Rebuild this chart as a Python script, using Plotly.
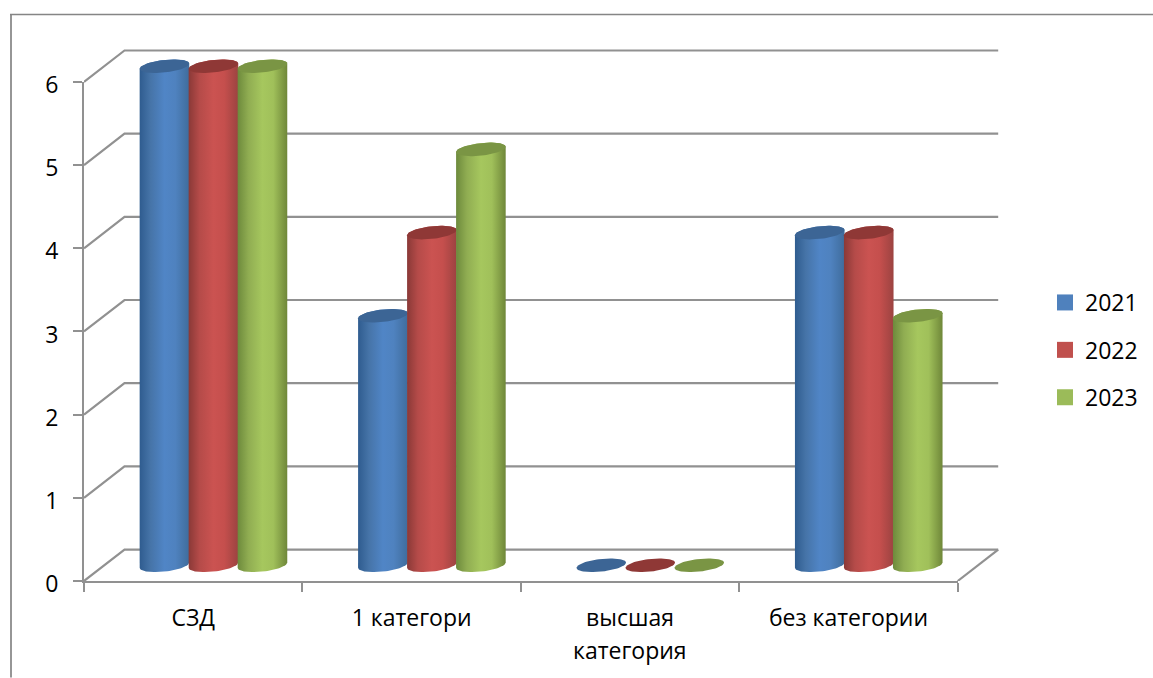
import numpy as np
import plotly.graph_objects as go

categories = ["СЗД", "1 категори", "высшая", "без категории"]
second_lines = {2: "категория"}
years = ["2021", "2022", "2023"]
s2021 = [6, 3, 0, 4]
s2022 = [6, 4, 0, 4]
s2023 = [6, 5, 0, 3]
series = [s2021, s2022, s2023]
y_ticks = [0, 1, 2, 3, 4, 5, 6]
legend_colors = ["#4f81bd", "#c0504d", "#9bbb59"]
top_colors = ["#3c6595", "#8f3836", "#7a9544"]
gradients = [
    ["#2f5c8f", "#4674a8", "#5085c6", "#4f82bf", "#3f6c9c"],
    ["#8a3937", "#b54b49", "#cb5351", "#c54f4d", "#9c4341"],
    ["#6d8a3c", "#90ad52", "#a6c75e", "#a0c05a", "#6f8739"],
]

W, H = 1153, 678
L, R_front, R, T, B = 84, 957.7, 1001, 40, 581.5
TOP6 = 82.0
px_x = (R_front - L) / 4
px_y = (B - TOP6) / 6
dx = 40.5 / px_x   # wall depth in category units
dy = 31.5 / px_y   # wall depth in value units
x_max = (R - L) / px_x
y_top = (B - T) / px_y
line_color = "#919191"
line_w = 2.2
FS = 23

fig = go.Figure()

# walls: grid lines
for v in y_ticks:
    fig.add_trace(go.Scatter(
        x=[0, dx, 4 + dx], y=[v, v + dy, v + dy], mode="lines",
        line=dict(color=line_color, width=line_w), cliponaxis=False,
        showlegend=False, hoverinfo="skip"))
fig.add_trace(go.Scatter(
    x=[4, 4 + dx], y=[0, dy], mode="lines",
    line=dict(color=line_color, width=line_w), cliponaxis=False,
    showlegend=False, hoverinfo="skip"))

# cylinders
a = 24.8 / px_x
b = 6.3 / px_y
shear = (2.6 / px_y) / a
base = dy / 2
t_low = np.linspace(np.pi, 2 * np.pi, 40)
t_up = np.linspace(0, np.pi, 40)
t_all = np.linspace(0, 2 * np.pi, 80)

def ell(cx, cy, t):
    ex = a * np.cos(t)
    ey = b * np.sin(t) + shear * ex
    return cx + ex, cy + ey

for c in range(len(categories)):
    for s, vals in enumerate(series):
        cx = c + 0.5 + dx / 2 + (s - 1) * (49 / px_x)
        v = vals[c]
        if v > 0:
            x1, y1 = ell(cx, base, t_low)
            x2, y2 = ell(cx, base + v, t_up)
            stops = [0, 0.22, 0.5, 0.72, 1]
            fig.add_trace(go.Scatter(
                x=np.r_[x1, x2, x1[0]], y=np.r_[y1, y2, y1[0]], mode="lines",
                line=dict(width=0), fill="toself", cliponaxis=False,
                fillgradient=dict(type="horizontal",
                                  colorscale=[[p, col] for p, col in zip(stops, gradients[s])]),
                showlegend=False, hoverinfo="skip"))
        x3, y3 = ell(cx, base + v, t_all)
        fig.add_trace(go.Scatter(
            x=x3, y=y3, mode="lines", line=dict(width=0), fill="toself",
            fillcolor=top_colors[s], cliponaxis=False, showlegend=False, hoverinfo="skip"))

# legend entries
for s, year in enumerate(years):
    fig.add_trace(go.Scatter(
        x=[None], y=[None], mode="markers", name=year, legendgroup=year,
        marker=dict(symbol="square", size=16, color=legend_colors[s])))

# front-plane axes (shorter than the walls)
fig.add_trace(go.Scatter(x=[None], y=[None], xaxis="x2", yaxis="y2", mode="lines",
                         showlegend=False, hoverinfo="skip"))

font = "Open Sans"
fig.update_layout(
    width=W, height=H, autosize=False,
    margin=dict(l=L, r=W - R, t=T, b=H - B),
    paper_bgcolor="white", plot_bgcolor="rgba(0,0,0,0)",
    font=dict(family=font, size=FS, color="#000000"),
    hovermode=False,
    xaxis=dict(range=[0, x_max], showgrid=False, zeroline=False, showline=False,
               tickmode="array", tickvals=[i + 0.5 for i in range(4)], ticktext=categories,
               ticks="", ticklabelstandoff=21, tickfont=dict(size=FS)),
    yaxis=dict(range=[0, y_top], showgrid=False, zeroline=False, showline=False,
               showticklabels=False, ticks=""),
    xaxis2=dict(domain=[0, (R_front - L) / (R - L)], anchor="y2", range=[0, 4],
                showgrid=False, zeroline=False, showline=True,
                linecolor=line_color, linewidth=line_w,
                tickmode="array", tickvals=list(range(5)), ticks="outside", ticklen=9,
                tickwidth=2, tickcolor=line_color, showticklabels=False),
    yaxis2=dict(domain=[0, (B - TOP6) / (B - T)], anchor="x2", range=[0, 6],
                showgrid=False, zeroline=False, showline=True,
                linecolor=line_color, linewidth=line_w,
                tickmode="array", tickvals=y_ticks, ticks="outside", ticklen=9,
                tickwidth=2, tickcolor=line_color, ticklabelstandoff=10,
                ticklabelshift=3, tickfont=dict(size=FS)),
    legend=dict(xref="container", yref="container", x=1045 / W, y=1 - 281 / H,
                xanchor="left", yanchor="top", tracegroupgap=14.5,
                font=dict(size=FS), itemwidth=30, bgcolor="rgba(0,0,0,0)"),
    annotations=[dict(x=i + 0.5, y=1 - (651 - T) / (B - T), xref="x", yref="paper",
                      text=t, showarrow=False, font=dict(size=FS), yanchor="middle")
                 for i, t in second_lines.items()],
    shapes=[
        dict(type="line", xref="paper", yref="paper",
             x0=(11 - L) / (R - L), x1=(11 - L) / (R - L),
             y0=(B - 14) / (B - T), y1=(B - H) / (B - T),
             line=dict(color="#969696", width=2)),
        dict(type="line", xref="paper", yref="paper",
             x0=(10 - L) / (R - L), x1=(W - L) / (R - L),
             y0=(B - 14.5) / (B - T), y1=(B - 14.5) / (B - T),
             line=dict(color="#858585", width=1.5)),
    ],
)
fig.write_html("out.html", post_script="document.body.style.margin='0';",
               config={"displayModeBar": False})
